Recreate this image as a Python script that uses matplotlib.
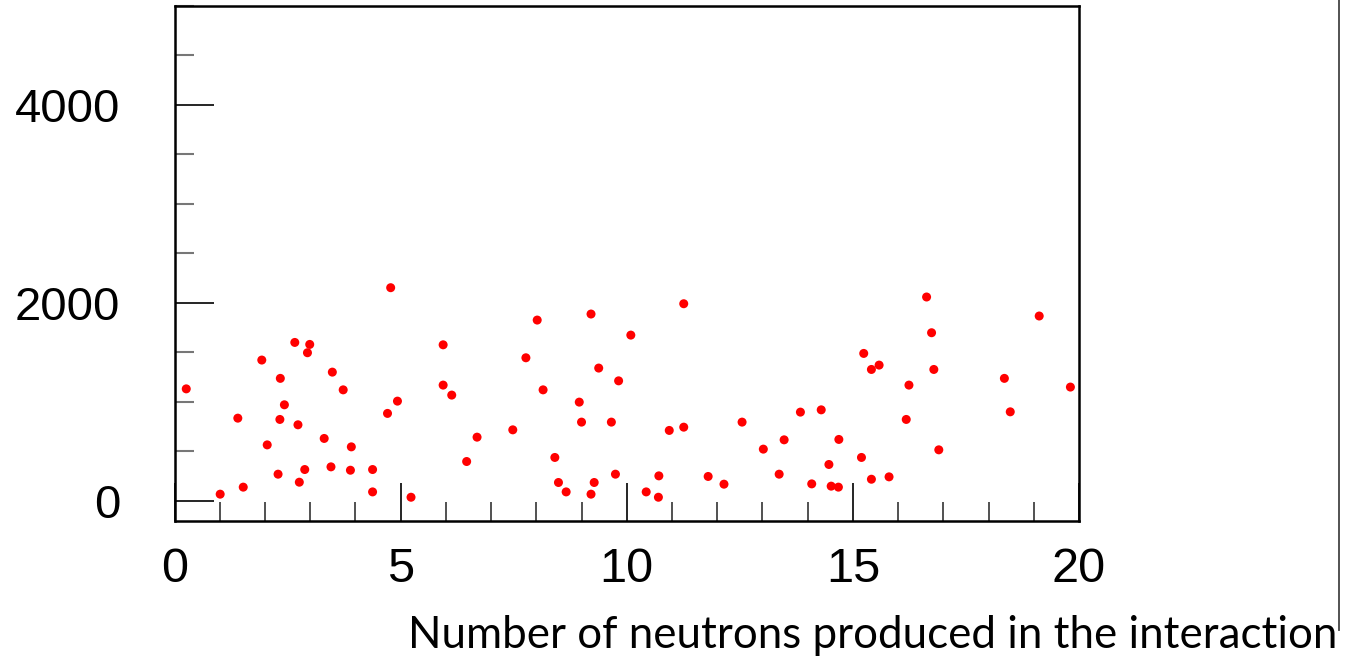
import matplotlib
matplotlib.use("Agg")
import matplotlib.pyplot as plt
from matplotlib.ticker import MultipleLocator, FixedLocator

# ---- data ----
n_neutrons = [0.26, 4.78, 2.66, 2.99, 2.94, 1.93, 2.34, 3.49, 3.73, 2.43,
              1.40, 2.33, 2.73, 3.31, 3.91, 2.05, 2.29, 2.88, 3.46, 3.89,
              4.38, 2.76, 1.52, 1.01, 4.38, 5.23, 5.94, 5.94, 6.13, 4.93,
              4.71, 6.69, 6.46, 11.26, 9.21, 8.02, 10.09, 7.77, 9.38, 9.82,
              8.15, 8.95, 9.00, 9.66, 10.94, 11.26, 7.48, 8.41, 8.49, 8.66,
              9.28, 9.21, 9.75, 10.43, 10.71, 10.70, 11.80, 12.15, 12.55, 13.02,
              13.48, 13.37, 16.63, 19.12, 16.74, 15.24, 15.58, 15.41, 16.79, 16.24,
              18.35, 19.81, 14.30, 13.84, 16.18, 18.48, 14.69, 16.90, 15.19, 14.47,
              15.41, 15.80, 14.09, 14.52, 14.68]
values = [1132, 2154, 1601, 1581, 1497, 1423, 1238, 1301, 1122, 971,
          836, 823, 769, 631, 546, 566, 270, 317, 344, 310,
          317, 189, 139, 68, 91, 37, 1577, 1170, 1069, 1008,
          884, 644, 398, 1992, 1888, 1827, 1675, 1446, 1342, 1213,
          1122, 998, 796, 796, 712, 745, 718, 439, 186, 91,
          186, 68, 270, 91, 253, 37, 247, 169, 796, 523,
          617, 270, 2060, 1868, 1699, 1490, 1372, 1328, 1328, 1170,
          1238, 1150, 920, 897, 823, 900, 621, 516, 439, 368,
          219, 243, 172, 149, 139]
x_major_ticks = [0, 5, 10, 15, 20]
y_major_ticks = [0, 2000, 4000]
x_label = "Number of neutrons produced in the interaction"

W, H = 1361, 658
fig = plt.figure(figsize=(W / 100, H / 100), dpi=100)
ax = fig.add_axes([174.5 / W, 1 - 520.7 / H, (1079 - 174.5) / W, (520.7 - 6) / H])

ax.scatter(n_neutrons, values, s=42, color="#ff0000", edgecolors="none", zorder=3)

ax.set_xlim(0, 20)
ax.set_ylim(-200, 5000)

ax.xaxis.set_major_locator(FixedLocator(x_major_ticks))
ax.xaxis.set_minor_locator(MultipleLocator(1))
ax.yaxis.set_major_locator(FixedLocator(y_major_ticks))
ax.yaxis.set_minor_locator(MultipleLocator(500))

for s in ax.spines.values():
    s.set_linewidth(1.8)
    s.set_color("black")

ax.tick_params(axis="both", which="both", direction="in", top=False, right=False)
ax.tick_params(axis="x", which="major", length=27.4, width=1.2, color="black",
               pad=19, labelsize=35)
ax.tick_params(axis="x", which="minor", length=13.5, width=1.2, color="#333333")
ax.tick_params(axis="y", which="major", length=28, width=1.2, color="black",
               pad=39, labelsize=34)
ax.tick_params(axis="y", which="minor", length=14, width=1.5, color="#777777")

for lab in ax.get_xticklabels() + ax.get_yticklabels():
    lab.set_fontfamily("Liberation Sans")
    lab.set_fontweight("medium")

# x axis title in the bottom right
t = fig.text(408 / W, 1 - 647.7 / H, x_label, ha="left", va="baseline",
             fontsize=26, family=["Lato", "DejaVu Sans"], color="black")
fig.canvas.draw()
r = fig.canvas.get_renderer()
w = t.get_window_extent(r).width
t.set_fontsize(26 * 927 / w)

# thin vertical line on the right edge
fig.add_artist(plt.Line2D([1338.7 / W, 1338.7 / W], [1 - 630 / H, 1.0],
                          color="#444444", linewidth=1.3))

fig.savefig("out.png", dpi=100)
